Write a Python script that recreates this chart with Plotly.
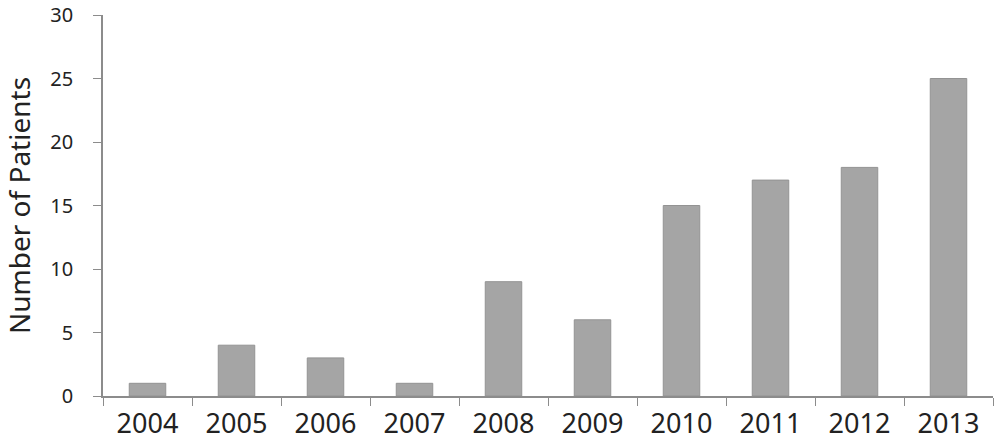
import plotly.graph_objects as go

years = ["2004", "2005", "2006", "2007", "2008", "2009", "2010", "2011", "2012", "2013"]
patients = [1, 4, 3, 1, 9, 6, 15, 17, 18, 25]
y_ticks = [0, 5, 10, 15, 20, 25, 30]

fig = go.Figure(go.Bar(
    x=years, y=patients,
    marker=dict(color="#A5A5A5", line=dict(color="#939393", width=1)),
    width=0.41,
))

fig.update_layout(
    width=995, height=441,
    margin=dict(l=103, r=2, t=15, b=45),
    plot_bgcolor="white", paper_bgcolor="white",
    font=dict(family="Noto Sans", color="#222222"),
    showlegend=False,
)
fig.update_xaxes(
    type="category", tickson="boundaries", ticks="outside", ticklen=8,
    tickcolor="#8C8C8C", showline=True, linecolor="#8C8C8C", linewidth=1.5,
    tickfont=dict(size=27), showgrid=False, automargin=False,
    ticklabelstandoff=3,
)
fig.update_yaxes(
    range=[0, 30], tickvals=y_ticks, ticks="outside", ticklen=8,
    tickcolor="#8C8C8C", showline=True, linecolor="#8C8C8C", linewidth=1.5,
    tickfont=dict(size=20), showgrid=False, zeroline=False, automargin=False,
    ticklabelstandoff=16, ticklabeloverflow="allow",
    title=dict(text="Number of Patients", font=dict(size=28), standoff=14),
)

fig.write_html("out.html", config={"displayModeBar": False},
               post_script="document.body.style.margin='0';")
